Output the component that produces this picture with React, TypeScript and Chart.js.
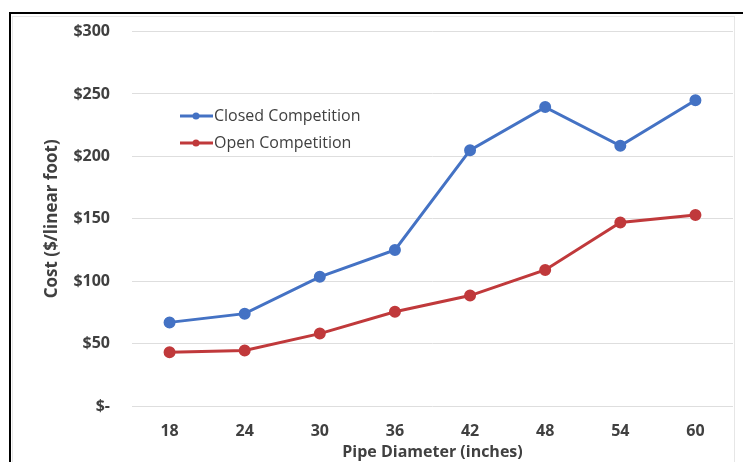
import React, { useEffect, useRef } from "react";
import { Chart, registerables } from "chart.js";

Chart.register(...registerables);

const categories = ["18", "24", "30", "36", "42", "48", "54", "60"];
const closedCompetition = [67, 74, 103.5, 125, 205, 239.5, 208.5, 245];
const openCompetition = [43, 44.5, 58, 75.5, 88.5, 109, 147, 153];
const seriesNames = ["Closed Competition", "Open Competition"];
const seriesColors = ["#4472C4", "#C0393B"];
const yTicks = [0, 50, 100, 150, 200, 250, 300];

const FONT = "'Open Sans', sans-serif";

const legendPlugin = {
  id: "insideLegend",
  afterDatasetsDraw(chart: any) {
    const ctx = chart.ctx;
    const x0 = 180;
    const y0 = 116;
    const gap = 27;
    ctx.save();
    chart.data.datasets.forEach((ds: any, i: number) => {
      const y = y0 + i * gap;
      ctx.strokeStyle = ds.borderColor;
      ctx.lineWidth = 3;
      ctx.beginPath();
      ctx.moveTo(x0, y);
      ctx.lineTo(x0 + 33, y);
      ctx.stroke();
      ctx.fillStyle = ds.borderColor;
      ctx.beginPath();
      ctx.arc(x0 + 16, y, 3.5, 0, Math.PI * 2);
      ctx.fill();
      ctx.fillStyle = "#404040";
      ctx.font = `16px ${FONT}`;
      ctx.textBaseline = "middle";
      ctx.textAlign = "left";
      ctx.fillText(ds.label, x0 + 34, y);
    });
    ctx.restore();
  },
};

export default function App() {
  const ref = useRef<HTMLCanvasElement>(null);
  useEffect(() => {
    if (!ref.current) return;
    const chart = new Chart(ref.current, {
      type: "line",
      data: {
        labels: categories,
        datasets: [closedCompetition, openCompetition].map((d, i) => ({
          label: seriesNames[i],
          data: d,
          borderColor: seriesColors[i],
          backgroundColor: seriesColors[i],
          borderWidth: 3,
          pointRadius: 4.5,
          pointHoverRadius: 4.5,
          pointBackgroundColor: seriesColors[i],
          pointBorderColor: seriesColors[i],
          tension: 0,
        })),
      },
      options: {
        animation: false,
        responsive: false,
        maintainAspectRatio: false,
        layout: { padding: { top: 29, right: 10, left: 0, bottom: 0 } },
        plugins: { legend: { display: false }, tooltip: { enabled: false } },
        scales: {
          x: {
            offset: true,
            grid: { display: false, drawTicks: false },
            border: { display: false },
            ticks: { padding: 16, color: "#404040", font: { family: FONT, size: 16, weight: "bold" } },
            title: {
              display: true,
              text: "Pipe Diameter (inches)",
              color: "#404040",
              font: { family: FONT, size: 16, weight: "bold" },
              padding: { top: 0, bottom: 0 },
            },
            afterFit: (s: any) => {
              s.height = 56;
            },
          },
          y: {
            min: 0,
            max: 300,
            afterBuildTicks: (s: any) => {
              s.ticks = yTicks.map((v) => ({ value: v }));
            },
            grid: { color: "#DEDEDE", lineWidth: 1, drawTicks: false },
            border: { display: false },
            ticks: {
              padding: 22,
              color: "#404040",
              font: { family: FONT, size: 16, weight: "bold" },
              callback: (v: any) => (Number(v) === 0 ? "$-" : "$" + v),
            },
            title: {
              display: true,
              text: "Cost ($/linear foot)",
              color: "#404040",
              font: { family: FONT, size: 17, weight: "bold" },
              padding: { top: 42, bottom: 0 },
            },
            afterFit: (s: any) => {
              s.width = 132;
            },
          },
        },
      },
      plugins: [legendPlugin],
    });
    return () => chart.destroy();
  }, []);
  return (
    <div style={{ position: "fixed", left: 0, top: 0, width: 743, height: 462, background: "#fff" }}>
      <div
        style={{
          position: "absolute",
          left: 9,
          top: 12,
          right: -5,
          bottom: -5,
          borderLeft: "2px solid #000",
          borderTop: "2px solid #000",
        }}
      />
      <div
        style={{
          position: "absolute",
          left: 12,
          top: 16,
          right: 8,
          bottom: -5,
          borderLeft: "1px solid #E6E6E6",
          borderTop: "1px solid #E6E6E6",
          borderRight: "1px solid #E6E6E6",
        }}
      />
      <canvas ref={ref} width={743} height={462} style={{ position: "absolute", left: 0, top: 0 }} />
    </div>
  );
}
